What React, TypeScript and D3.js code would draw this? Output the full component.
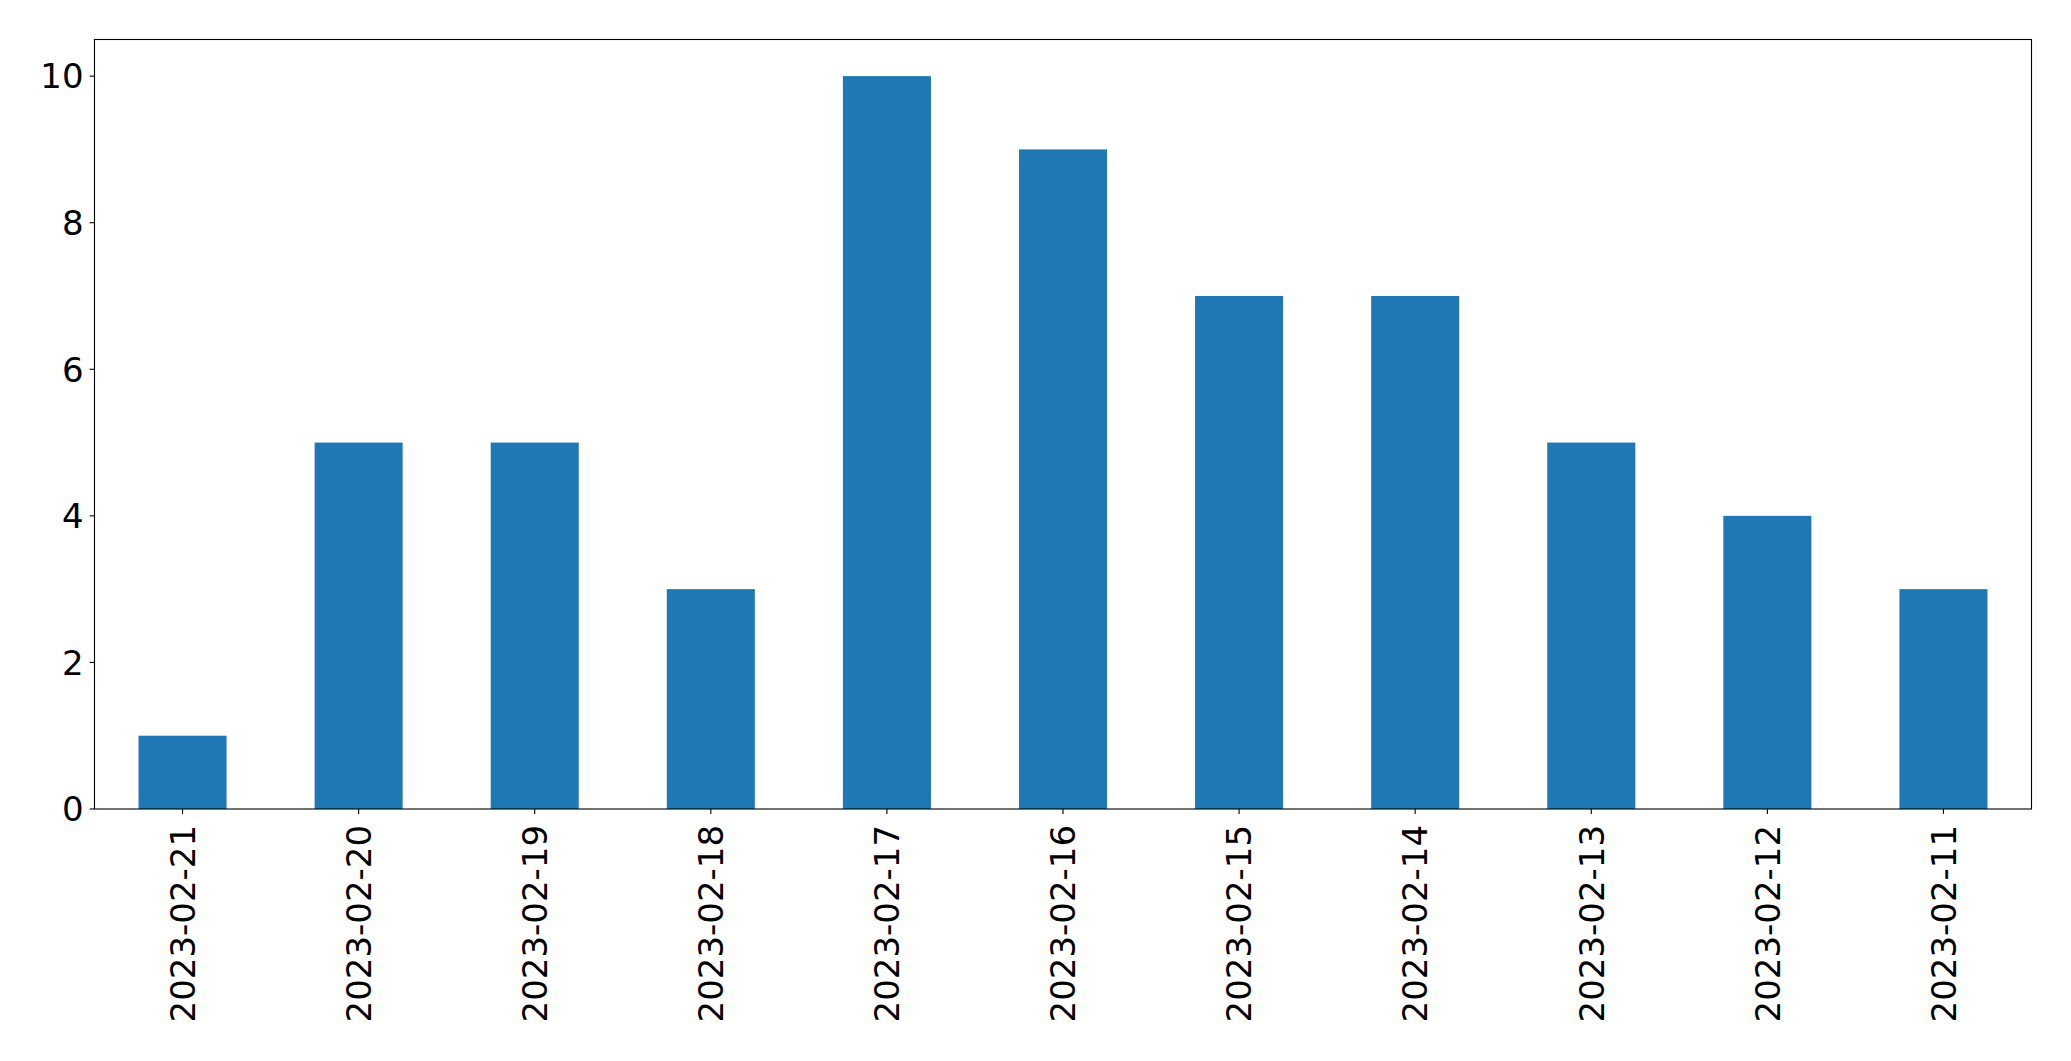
import React from "react";
import * as d3 from "d3";

const categories = [
  "2023-02-21", "2023-02-20", "2023-02-19", "2023-02-18", "2023-02-17",
  "2023-02-16", "2023-02-15", "2023-02-14", "2023-02-13", "2023-02-12", "2023-02-11",
];
const counts = [1, 5, 5, 3, 10, 9, 7, 7, 5, 4, 3];
const yTicks = [0, 2, 4, 6, 8, 10];

const W = 2071;
const H = 1061;
const M = { left: 94.5, right: 2031.5, top: 39.5, bottom: 809 };
const FONT = "'DejaVu Sans', sans-serif";
const FS = 34;

export default function App() {
  const x = d3
    .scaleLinear()
    .domain([-0.5, categories.length - 0.5])
    .range([M.left, M.right]);
  const y = d3.scaleLinear().domain([0, 10.5]).range([M.bottom, M.top]);
  const bw = x(0.25) - x(-0.25);

  return (
    <svg
      width={W}
      height={H}
      style={{ position: "absolute", left: 0, top: 0, display: "block", background: "#fff" }}
    >
      {counts.map((v, i) => (
        <rect
          key={categories[i]}
          x={x(i) - bw / 2}
          y={y(v)}
          width={bw}
          height={y(0) - y(v)}
          fill="#1f77b4"
        />
      ))}
      <rect
        x={M.left}
        y={M.top}
        width={M.right - M.left}
        height={M.bottom - M.top}
        fill="none"
        stroke="#000"
        strokeWidth={1.1}
      />
      {yTicks.map((t) => (
        <g key={t}>
          <line x1={M.left - 4.9} x2={M.left} y1={y(t)} y2={y(t)} stroke="#000" strokeWidth={1.1} />
          <text
            x={M.left - 4.9 - 6}
            y={y(t)}
            dy="0.36em"
            textAnchor="end"
            fontFamily={FONT}
            fontSize={FS}
            fill="#000"
          >
            {t}
          </text>
        </g>
      ))}
      {categories.map((c, i) => (
        <g key={c}>
          <line x1={x(i)} x2={x(i)} y1={M.bottom} y2={M.bottom + 4.9} stroke="#000" strokeWidth={1.1} />
          <text
            transform={`translate(${x(i)},${M.bottom + 4.9 + 11}) rotate(-90)`}
            dy="0.36em"
            textAnchor="end"
            fontFamily={FONT}
            fontSize={FS}
            fill="#000"
          >
            {c}
          </text>
        </g>
      ))}
    </svg>
  );
}
